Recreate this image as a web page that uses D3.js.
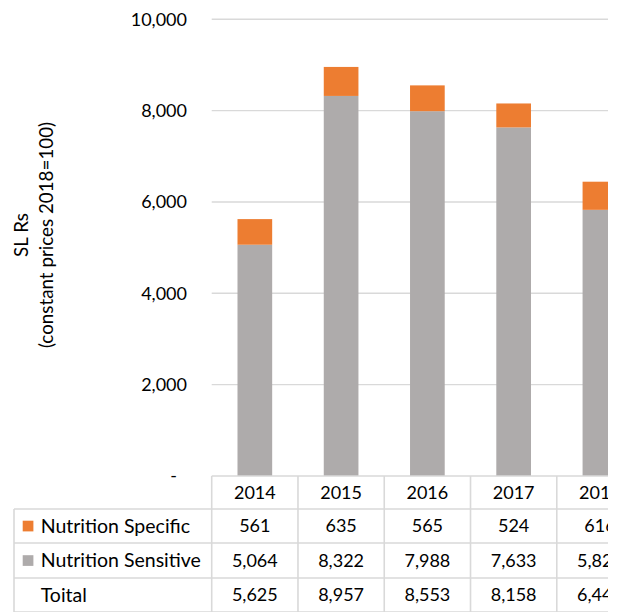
<!DOCTYPE html>
<html><head><meta charset="utf-8">
<script src="https://cdn.jsdelivr.net/npm/d3@7"></script>
<style>html,body{margin:0;padding:0;background:#fff;overflow:hidden}svg{display:block}</style>
</head><body>
<script>
const years = ["2014","2015","2016","2017","2018"];
const specific = [561, 635, 565, 524, 616];
const sensitive = [5064, 8322, 7988, 7633, 5828];
const totals = [5625, 8957, 8553, 8158, 6444];
const yTicks = [0, 2000, 4000, 6000, 8000, 10000];
const seriesNames = ["Nutrition Specific", "Nutrition Sensitive", "Toital"];

const W = 621, H = 612, CLIP_W = 608;
const FONT = "Lato, 'Open Sans', sans-serif";
const svg = d3.select("body").append("svg").attr("width", W).attr("height", H)
  .style("font-family", FONT);
svg.append("defs").append("clipPath").attr("id", "clip")
  .append("rect").attr("x", 0).attr("y", 0).attr("width", CLIP_W).attr("height", H);
const root = svg.append("g").attr("clip-path", "url(#clip)");

const colX0 = 211.7, colW = 86.27;
const x = d3.scaleBand().domain(years).range([colX0, colX0 + colW * years.length]).padding(0);
const y = d3.scaleLinear().domain([0, 10000]).range([476, 19.3]);
const color = d3.scaleOrdinal().domain(["sensitive","specific"]).range(["#AEABAB","#ED7D31"]);
const grid = "#D9D9D9";
const NUM = 18, NAME = 19.5, TITLE = 18.8;

// gridlines
root.append("g").selectAll("line").data(yTicks.filter(d => d > 0)).join("line")
  .attr("x1", colX0).attr("x2", W + 40)
  .attr("y1", d => y(d)).attr("y2", d => y(d))
  .attr("stroke", grid).attr("stroke-width", 1.4);

// y axis labels
const fmt = d3.format(",");
root.append("g").selectAll("text").data(yTicks).join("text")
  .attr("x", d => d === 0 ? 177 : 187)
  .attr("y", d => y(d))
  .attr("dy", "0.35em")
  .attr("text-anchor", "end")
  .attr("font-size", NUM)
  .attr("fill", "#000")
  .text(d => d === 0 ? "-" : fmt(d));

// axis title
const title = root.append("text")
  .attr("transform", "translate(0,235) rotate(-90)")
  .attr("text-anchor", "middle").attr("font-size", TITLE).attr("fill", "#000");
title.append("tspan").attr("x", 0).attr("y", 28).text("SL Rs");
title.append("tspan").attr("x", 0).attr("y", 53).text("(constant prices 2018=100)");

// stacked bars
const rows = years.map((yr, i) => ({year: yr, sensitive: sensitive[i], specific: specific[i]}));
const stack = d3.stack().keys(["sensitive", "specific"])(rows);
const barW = x.bandwidth() * 0.402;
root.append("g").selectAll("g").data(stack).join("g")
  .attr("fill", d => color(d.key))
  .selectAll("rect").data(d => d).join("rect")
  .attr("x", d => x(d.data.year) + (x.bandwidth() - barW) / 2)
  .attr("width", barW)
  .attr("y", d => y(d[1]))
  .attr("height", d => y(d[0]) - y(d[1]));

// data table
const rowTops = [476, 509, 543, 578, 612];
const tableLeft = 14;
const tg = root.append("g");
const rightEnd = x.range()[1];
tg.selectAll("line.h").data(rowTops).join("line").attr("class","h")
  .attr("x1", (d, i) => i === 0 ? colX0 : tableLeft).attr("x2", rightEnd)
  .attr("y1", d => d).attr("y2", d => d)
  .attr("stroke", grid).attr("stroke-width", 1.6);
const vx = [colX0].concat(years.map(yr => x(yr) + x.bandwidth()));
tg.selectAll("line.v").data(vx).join("line").attr("class","v")
  .attr("x1", d => d).attr("x2", d => d)
  .attr("y1", rowTops[0]).attr("y2", rowTops[4])
  .attr("stroke", grid).attr("stroke-width", 1.6);
tg.append("line").attr("x1", tableLeft).attr("x2", tableLeft)
  .attr("y1", rowTops[1]).attr("y2", rowTops[4])
  .attr("stroke", grid).attr("stroke-width", 1.6);

const mid = i => (rowTops[i] + rowTops[i + 1]) / 2;
tg.selectAll("text.yr").data(years).join("text").attr("class","yr")
  .attr("x", d => x(d) + x.bandwidth() / 2).attr("y", mid(0)).attr("dy", "0.35em")
  .attr("text-anchor", "middle").attr("font-size", NUM).attr("fill", "#000").text(d => d);

const tableRows = [specific, sensitive, totals];
tableRows.forEach((vals, r) => {
  tg.append("g").selectAll("text").data(vals).join("text")
    .attr("x", (d, i) => x(years[i]) + x.bandwidth() / 2).attr("y", mid(r + 1)).attr("dy", "0.35em")
    .attr("text-anchor", "middle").attr("font-size", NUM).attr("fill", "#000").text(d => fmt(d));
  tg.append("text").attr("x", 40.7).attr("y", mid(r + 1)).attr("dy", "0.35em")
    .attr("font-size", NAME).attr("fill", "#000").text(seriesNames[r]);
});
const keyColors = [color("specific"), color("sensitive")];
tg.selectAll("rect.key").data(keyColors).join("rect").attr("class","key")
  .attr("x", 22.7).attr("width", 10.7)
  .attr("y", (d, i) => mid(i + 1) - 5.3).attr("height", 10.7)
  .attr("fill", d => d);
</script>
</body></html>
